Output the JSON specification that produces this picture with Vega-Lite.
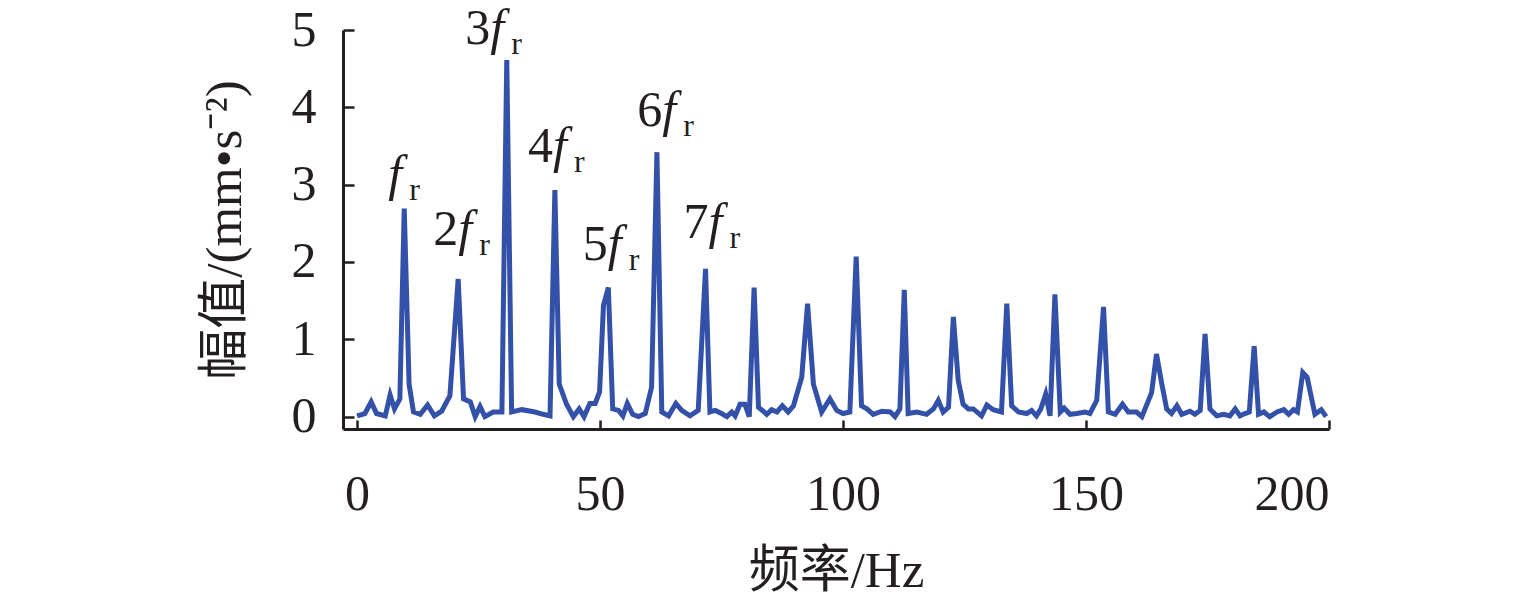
{
  "$schema": "https://vega.github.io/schema/vega-lite/v6.json",
  "width": 986,
  "height": 399,
  "autosize": {"type": "none"},
  "padding": {"left": 343, "top": 30, "right": 206, "bottom": 182},
  "background": "white",
  "config": {
    "view": {"stroke": null},
    "axis": {
      "grid": false,
      "domainColor": "#231f20",
      "domainWidth": 3,
      "tickColor": "#231f20",
      "tickWidth": 2.5,
      "labelFont": "Liberation Serif",
      "labelFontSize": 50,
      "labelColor": "#231f20",
      "titleFont": "Liberation Serif, Noto Sans CJK SC",
      "titleFontSize": 51,
      "titleFontWeight": "normal",
      "titleColor": "#231f20"
    }
  },
  "datasets": {
    "spectrum": [
      {"f": 0, "a": 0.01}, {"f": 1.6, "a": 0.04}, {"f": 2.9, "a": 0.19}, {"f": 4.0, "a": 0.04},
      {"f": 5.8, "a": 0.01}, {"f": 6.8, "a": 0.28}, {"f": 7.7, "a": 0.10}, {"f": 8.8, "a": 0.23},
      {"f": 9.7, "a": 2.69}, {"f": 10.7, "a": 0.42}, {"f": 11.6, "a": 0.06}, {"f": 13.0, "a": 0.03},
      {"f": 14.5, "a": 0.15}, {"f": 15.9, "a": 0.01}, {"f": 17.4, "a": 0.07}, {"f": 19.1, "a": 0.27},
      {"f": 20.8, "a": 1.78}, {"f": 21.9, "a": 0.23}, {"f": 23.3, "a": 0.19}, {"f": 24.3, "a": 0.0},
      {"f": 25.3, "a": 0.13}, {"f": 26.3, "a": 0.0}, {"f": 28.0, "a": 0.06}, {"f": 29.8, "a": 0.06},
      {"f": 30.8, "a": 4.61}, {"f": 31.8, "a": 0.06}, {"f": 33.9, "a": 0.09}, {"f": 36.6, "a": 0.06},
      {"f": 38.3, "a": 0.03}, {"f": 39.7, "a": 0.01}, {"f": 40.7, "a": 2.93}, {"f": 41.6, "a": 0.42},
      {"f": 43.1, "a": 0.16}, {"f": 44.5, "a": 0.0}, {"f": 45.7, "a": 0.10}, {"f": 46.7, "a": 0.0},
      {"f": 47.9, "a": 0.17}, {"f": 49.0, "a": 0.17}, {"f": 49.9, "a": 0.32}, {"f": 50.7, "a": 1.44},
      {"f": 51.7, "a": 1.67}, {"f": 52.6, "a": 0.10}, {"f": 53.8, "a": 0.08}, {"f": 54.7, "a": 0.01},
      {"f": 55.6, "a": 0.17}, {"f": 56.7, "a": 0.03}, {"f": 57.9, "a": 0.0}, {"f": 59.3, "a": 0.04},
      {"f": 60.6, "a": 0.38}, {"f": 61.7, "a": 3.42}, {"f": 62.7, "a": 0.06}, {"f": 64.1, "a": 0.01},
      {"f": 65.6, "a": 0.17}, {"f": 66.8, "a": 0.08}, {"f": 68.5, "a": 0.01}, {"f": 70.2, "a": 0.08},
      {"f": 71.7, "a": 1.91}, {"f": 72.6, "a": 0.06}, {"f": 73.7, "a": 0.08}, {"f": 75.0, "a": 0.04},
      {"f": 76.1, "a": 0.0}, {"f": 77.1, "a": 0.06}, {"f": 77.8, "a": 0.01}, {"f": 78.8, "a": 0.16},
      {"f": 79.8, "a": 0.16}, {"f": 80.7, "a": 0.0}, {"f": 81.7, "a": 1.67}, {"f": 82.6, "a": 0.12},
      {"f": 83.4, "a": 0.08}, {"f": 84.3, "a": 0.03}, {"f": 85.3, "a": 0.09}, {"f": 86.4, "a": 0.06},
      {"f": 87.5, "a": 0.14}, {"f": 88.7, "a": 0.06}, {"f": 89.8, "a": 0.14}, {"f": 91.5, "a": 0.51},
      {"f": 92.7, "a": 1.46}, {"f": 93.9, "a": 0.42}, {"f": 95.6, "a": 0.06}, {"f": 97.3, "a": 0.23},
      {"f": 98.7, "a": 0.08}, {"f": 100.0, "a": 0.04}, {"f": 101.4, "a": 0.06}, {"f": 102.7, "a": 2.07},
      {"f": 103.8, "a": 0.14}, {"f": 104.9, "a": 0.10}, {"f": 106.2, "a": 0.03}, {"f": 108.0, "a": 0.07},
      {"f": 109.7, "a": 0.06}, {"f": 110.7, "a": 0.0}, {"f": 111.7, "a": 0.10}, {"f": 112.6, "a": 1.64},
      {"f": 113.4, "a": 0.04}, {"f": 115.2, "a": 0.06}, {"f": 117.2, "a": 0.03}, {"f": 118.6, "a": 0.10},
      {"f": 119.6, "a": 0.21}, {"f": 120.6, "a": 0.06}, {"f": 121.7, "a": 0.12}, {"f": 122.7, "a": 1.29},
      {"f": 123.7, "a": 0.47}, {"f": 124.7, "a": 0.16}, {"f": 125.8, "a": 0.10}, {"f": 126.8, "a": 0.10},
      {"f": 128.5, "a": 0.01}, {"f": 129.6, "a": 0.15}, {"f": 130.9, "a": 0.09}, {"f": 132.6, "a": 0.06},
      {"f": 133.7, "a": 1.46}, {"f": 134.7, "a": 0.14}, {"f": 136.1, "a": 0.06}, {"f": 137.8, "a": 0.04},
      {"f": 138.8, "a": 0.08}, {"f": 139.8, "a": 0.01}, {"f": 140.7, "a": 0.10}, {"f": 141.7, "a": 0.29},
      {"f": 142.6, "a": 0.01}, {"f": 143.6, "a": 1.58}, {"f": 144.7, "a": 0.06}, {"f": 145.5, "a": 0.11},
      {"f": 146.7, "a": 0.03}, {"f": 148.1, "a": 0.04}, {"f": 149.8, "a": 0.06}, {"f": 150.8, "a": 0.04},
      {"f": 152.2, "a": 0.21}, {"f": 153.6, "a": 1.42}, {"f": 154.6, "a": 0.06}, {"f": 156.0, "a": 0.03},
      {"f": 157.5, "a": 0.16}, {"f": 158.7, "a": 0.06}, {"f": 160.4, "a": 0.06}, {"f": 161.5, "a": 0.0},
      {"f": 163.5, "a": 0.31}, {"f": 164.5, "a": 0.81}, {"f": 165.6, "a": 0.42}, {"f": 166.6, "a": 0.10},
      {"f": 167.6, "a": 0.04}, {"f": 168.7, "a": 0.14}, {"f": 169.7, "a": 0.03}, {"f": 171.4, "a": 0.07},
      {"f": 172.4, "a": 0.03}, {"f": 173.5, "a": 0.08}, {"f": 174.5, "a": 1.07}, {"f": 175.5, "a": 0.10},
      {"f": 176.9, "a": 0.01}, {"f": 178.3, "a": 0.03}, {"f": 179.6, "a": 0.01}, {"f": 180.7, "a": 0.10},
      {"f": 181.7, "a": 0.01}, {"f": 182.7, "a": 0.04}, {"f": 183.6, "a": 0.06}, {"f": 184.6, "a": 0.91},
      {"f": 185.5, "a": 0.03}, {"f": 186.6, "a": 0.06}, {"f": 187.8, "a": 0.0}, {"f": 189.3, "a": 0.06},
      {"f": 190.7, "a": 0.09}, {"f": 191.7, "a": 0.03}, {"f": 192.7, "a": 0.09}, {"f": 193.5, "a": 0.06},
      {"f": 194.6, "a": 0.57}, {"f": 195.5, "a": 0.51}, {"f": 197.1, "a": 0.03}, {"f": 198.4, "a": 0.09},
      {"f": 199.4, "a": 0.0}
    ],
    "labels": [
      {"x": 6.4, "y": 2.93, "num": ""},
      {"x": 20.8, "y": 2.215, "num": "2"},
      {"x": 27.4, "y": 4.82, "num": "3"},
      {"x": 40.3, "y": 3.29, "num": "4"},
      {"x": 51.6, "y": 2.02, "num": "5"},
      {"x": 62.8, "y": 3.76, "num": "6"},
      {"x": 72.3, "y": 2.31, "num": "7"}
    ]
  },
  "layer": [
    {
      "data": {"name": "spectrum"},
      "mark": {"type": "line", "color": "#3351a8", "strokeWidth": 5, "clip": true},
      "encoding": {
        "x": {
          "field": "f", "type": "quantitative",
          "scale": {"domain": [-2.9, 200], "nice": false, "zero": false},
          "axis": {
            "values": [0, 50, 100, 150, 200],
            "format": "d",
            "tickSize": -9,
            "labelPadding": 49,
            "title": "频率/Hz",
            "titlePadding": 27
          }
        },
        "y": {
          "field": "a", "type": "quantitative",
          "scale": {"domain": [-0.16, 5], "nice": false, "zero": false},
          "axis": {
            "values": [0, 1, 2, 3, 4, 5],
            "format": "d",
            "tickSize": -11,
            "labelPadding": 38,
            "title": "幅值/(mm•s⁻²)",
            "titlePadding": 40
          }
        }
      }
    },
    {
      "data": {"name": "labels"},
      "mark": {"type": "text", "font": "Liberation Serif", "fontSize": 50, "align": "right", "baseline": "alphabetic", "color": "#231f20"},
      "encoding": {
        "x": {"field": "x", "type": "quantitative"},
        "y": {"field": "y", "type": "quantitative"},
        "text": {"field": "num"}
      }
    },
    {
      "data": {"name": "labels"},
      "mark": {"type": "text", "font": "Liberation Serif", "fontStyle": "italic", "fontSize": 50, "align": "left", "baseline": "alphabetic", "color": "#231f20"},
      "encoding": {
        "x": {"field": "x", "type": "quantitative"},
        "y": {"field": "y", "type": "quantitative"},
        "text": {"value": "f"}
      }
    },
    {
      "data": {"name": "labels"},
      "mark": {"type": "text", "font": "Liberation Serif", "fontSize": 32, "align": "left", "baseline": "alphabetic", "dx": 21, "dy": 10, "color": "#231f20"},
      "encoding": {
        "x": {"field": "x", "type": "quantitative"},
        "y": {"field": "y", "type": "quantitative"},
        "text": {"value": "r"}
      }
    }
  ]
}
